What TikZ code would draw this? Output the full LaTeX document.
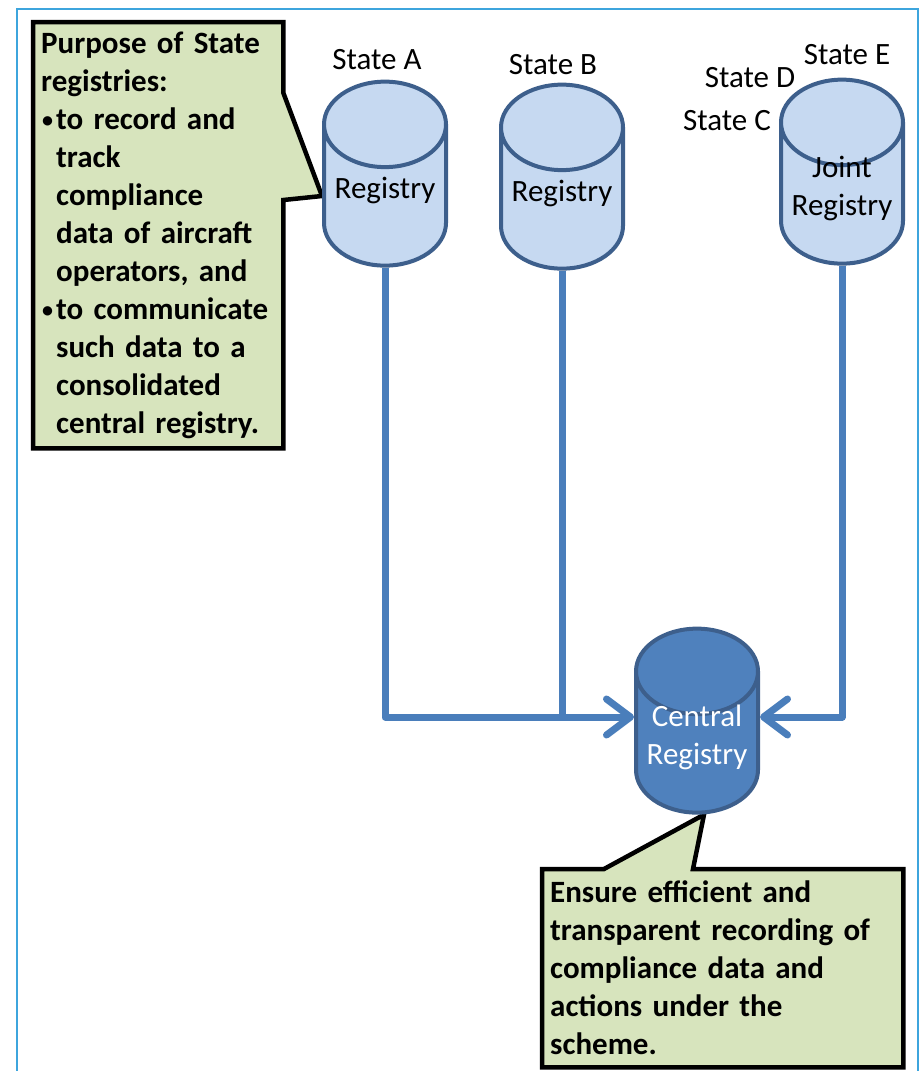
\documentclass[tikz,border=0pt]{standalone}
\usepackage{fontspec}
\setmainfont{Carlito}
\usetikzlibrary{shapes.geometric, positioning, arrows.meta, backgrounds}

\definecolor{regfill}{HTML}{C6D9F1}
\definecolor{regline}{HTML}{3D5F8C}
\definecolor{ctrfill}{HTML}{4F81BD}
\definecolor{linkblue}{HTML}{4A7EBB}
\definecolor{notefill}{HTML}{D7E4BD}
\definecolor{framecol}{HTML}{3DA5DD}

% text of a registry: one fixed box, so every cylinder keeps one size
\newcommand{\regtext}[1]{\raisebox{12pt}[33pt][7pt]{\begin{tabular}{@{}c@{}}#1\end{tabular}}}
\newcommand{\dotitem}{\makebox[15pt][l]{\hspace{1pt}\raisebox{2pt}{\fontsize{22}{22}\selectfont\textbullet}}}

\tikzset{
	registry/.style={cylinder, shape border rotate=90, aspect=0.85, draw=regline, line width=4pt, fill=regfill,
		minimum width=122pt, minimum height=184pt, inner sep=0pt, font=\fontsize{31}{38}\selectfont},
	central/.style={registry, fill=ctrfill, text=white},
	lbl/.style={inner sep=0pt, font=\fontsize{31}{38}\selectfont},
	note/.style={anchor=north west, inner sep=8pt, align=left, font=\bfseries\fontsize{31}{38}\selectfont},
	notebox/.style={fill=notefill, draw=black, line width=4.5pt, line join=miter},
	link/.style={draw=linkblue, line width=7pt, line join=round},
	flowtip/.style={-{Straight Barb[length=24pt, width=36pt, round]}}
}

\begin{document}
\begin{tikzpicture}[x=1pt, y=-1pt]
	\useasboundingbox (0,0) rectangle (919,1071);
	\draw[framecol, line width=2.5pt] (17,1080) -- (17,9) -- (918,9) -- (918,1080);

	% state registries
	\node[registry] (regA) at (385,196) {\regtext{Registry}};
	\node[registry] (regB) at (562,199) {\regtext{Registry}};
	\node[registry] (jreg) at (842,194) {\regtext{Joint\\Registry}};
	\node[central] (ctr) at (697,743) {\regtext{Central\\Registry}};

	\node[lbl] (stA) at (377,60) {State A};
	\node[lbl] (stB) at (553,65) {State B};
	\node[lbl] (stC) at (727,121) {State C};
	\node[lbl] (stD) at (750,78) {State D};
	\node[lbl] (stE) at (847,55) {State E};

	% callouts
	\node[note, text width=234pt, minimum height=426pt] (purp) at (33,22) {Purpose of State\\
		registries:\\
		\dotitem to record and\\
		\hspace*{15pt}track\\
		\hspace*{15pt}compliance\\
		\hspace*{15pt}data of aircraft\\
		\hspace*{15pt}operators, and\\
		\dotitem to communicate\\
		\hspace*{15pt}such data to a\\
		\hspace*{15pt}consolidated\\
		\hspace*{15pt}central registry.};
	\node[note, text width=345pt, minimum height=198pt] (aim) at (542,869) {Ensure efficient and\\
		transparent recording of\\
		compliance data and\\
		actions under the\\
		scheme.};

	\begin{scope}[on background layer]
		\draw[notebox] (purp.north west) -- (purp.north east) -- ([yshift=-71pt]purp.north east)
			-- (regA.west) -- ([yshift=-178pt]purp.north east) -- (purp.south east)
			-- (purp.south west) -- cycle;
		\draw[notebox] (aim.north west) -- ([xshift=62pt]aim.north west) -- ([xshift=7pt]ctr.south)
			-- ([xshift=151pt]aim.north west) -- (aim.north east) -- (aim.south east)
			-- (aim.south west) -- cycle;
	\end{scope}

	% links to the central registry
	\coordinate (inW) at ([yshift=26pt]ctr.west);
	\coordinate (inE) at ([yshift=26pt]ctr.east);
	\draw[link, flowtip] (regA.south) |- (inW);
	\draw[link] (regB.south) -- (regB.south |- inW);
	\draw[link, flowtip] (jreg.south) |- (inE);
\end{tikzpicture}
\end{document}
